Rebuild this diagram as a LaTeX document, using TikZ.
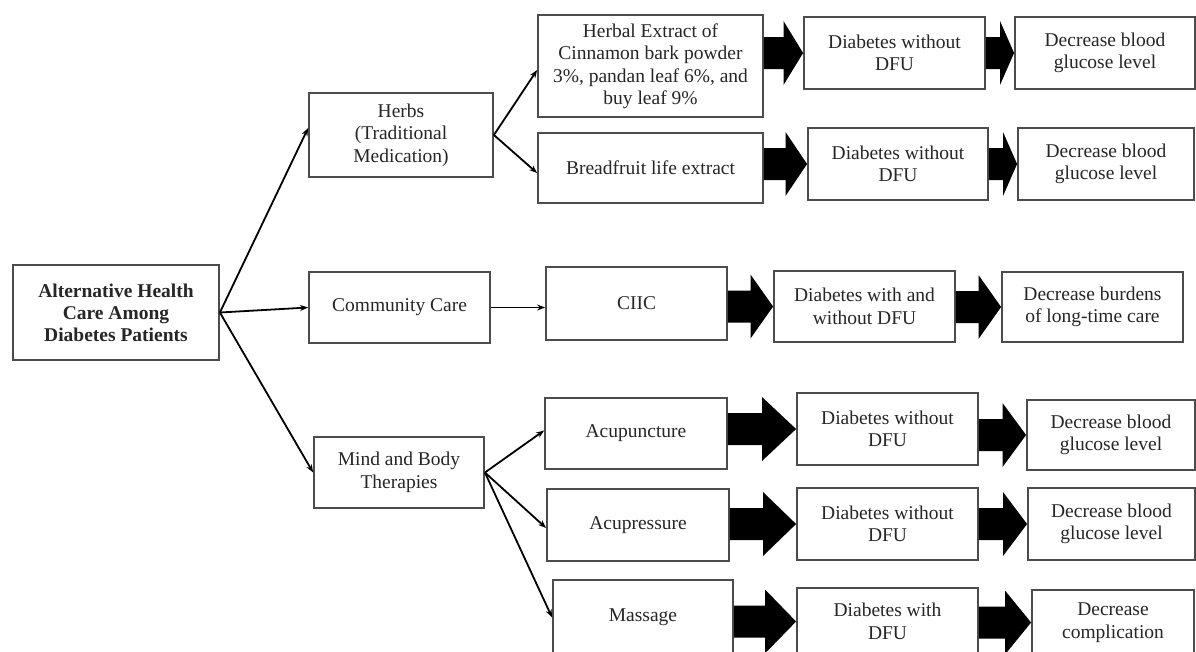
\documentclass[tikz,border=0pt]{standalone}
\usepackage{fontspec}
\setmainfont{Liberation Serif}
\usetikzlibrary{arrows.meta, calc}

\newcommand{\fatarrow}[2]{%
\path (#1.east |- #2.west) coordinate (fa) (#2.west) coordinate (fb) ($(fa)!.5!(fb)$) coordinate (fm);
\fill ($(fa)+(0,-16)$) -- ($(fm)+(0,-16)$) -- ($(fm)+(0,-32)$) -- (fb) -- ($(fm)+(0,32)$) -- ($(fm)+(0,16)$) -- ($(fa)+(0,16)$) -- cycle;
}

\begin{document}
\begin{tikzpicture}[x=1pt, y=-1pt,
  box/.style={draw=black!70, line width=1.8pt, align=center, inner sep=2pt, minimum width=181pt, minimum height=72pt, text=black!85},
  link/.style={line width=1.8pt, -{Stealth[length=8pt, width=6pt]}},
  font=\fontsize{19.5}{22.5}\selectfont]
\useasboundingbox (0,0) rectangle (1196,651);
\clip (0,0) rectangle (1196,651);
\node[box, minimum width=206pt, minimum height=95pt, font=\fontsize{19.5}{22}\selectfont\bfseries] (root) at (116,312.5) {Alternative Health\\ Care Among\\ Diabetes Patients};
\node[box, minimum width=184pt, minimum height=84pt] (herbs) at (401,135) {Herbs\\ (Traditional\\ Medication)};
\node[box, minimum height=71pt] (comm) at (399.5,307.5) {Community Care};
\node[box, minimum width=170pt, minimum height=71pt] (mind) at (399,472.5) {Mind and Body\\ Therapies};
\node[box, minimum width=225pt, minimum height=102pt] (herbal) at (650.5,66) {Herbal Extract of\\ Cinnamon bark powder\\ 3\%, pandan leaf 6\%, and\\ buy leaf 9\%};
\node[box, minimum width=225pt, minimum height=70pt] (bread) at (650.5,168) {Breadfruit life extract};
\node[box] (d1) at (894.5,53) {Diabetes without\\ DFU};
\node[box, minimum width=180pt] (r1) at (1105,53) {Decrease blood\\ glucose level};
\node[box, minimum width=180pt] (d2) at (898,164) {Diabetes without\\ DFU};
\node[box, minimum width=176pt] (r2) at (1106,164) {Decrease blood\\ glucose level};
\node[box, minimum height=73pt] (ciic) at (636.5,303.5) {CIIC};
\node[box, minimum height=71pt] (d3) at (864.5,306.5) {Diabetes with and\\ without DFU};
\node[box, minimum height=70pt] (r3) at (1092.5,307) {Decrease burdens\\ of long-time care};
\node[box, minimum width=182pt, minimum height=71pt] (acu) at (636,433.5) {Acupuncture};
\node[box] (d4) at (887.5,429) {Diabetes without\\ DFU};
\node[box, minimum width=168pt, minimum height=70pt] (r4) at (1111,435) {Decrease blood\\ glucose level};
\node[box, minimum width=182pt] (acp) at (638,525) {Acupressure};
\node[box] (d5) at (887.5,524) {Diabetes without\\ DFU};
\node[box, minimum width=167pt] (r5) at (1111.5,524) {Decrease blood\\ glucose level};
\node[box, minimum width=180pt, minimum height=75pt] (mas) at (643,617.5) {Massage};
\node[box, minimum height=67pt] (d6) at (887.5,621.5) {Diabetes with\\ DFU};
\node[box, minimum width=162pt, minimum height=65pt] (r6) at (1113,622.5) {Decrease\\ complication};
\draw[link] (root.east) -- ([yshift=7pt]herbs.west);
\draw[link] (root.east) -- (comm.west);
\draw[link] (root.east) -- (mind.west);
\draw[link] (herbs.east) -- ([yshift=-4pt]herbal.west);
\draw[link] (herbs.east) -- ([yshift=-5pt]bread.west);
\draw[link] (comm.east) -- (comm.east -| ciic.west);
\draw[link] (mind.east) -- ([yshift=3pt]acu.west);
\draw[link] (mind.east) -- ([yshift=-3pt]acp.west);
\draw[link] (mind.east) -- (mas.west);
\fatarrow{herbal}{d1}
\fatarrow{d1}{r1}
\fatarrow{bread}{d2}
\fatarrow{d2}{r2}
\fatarrow{ciic}{d3}
\fatarrow{d3}{r3}
\fatarrow{acu}{d4}
\fatarrow{d4}{r4}
\fatarrow{acp}{d5}
\fatarrow{d5}{r5}
\fatarrow{mas}{d6}
\fatarrow{d6}{r6}
\end{tikzpicture}
\end{document}
